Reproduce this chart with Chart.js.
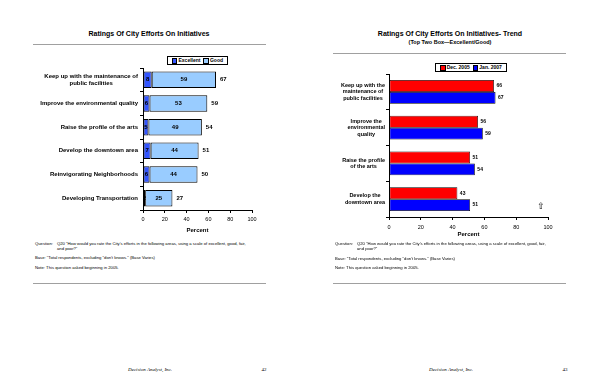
<!DOCTYPE html>
<html><head><meta charset="utf-8">
<script src="https://cdn.jsdelivr.net/npm/chart.js@4.4.0/dist/chart.umd.min.js"></script>
<style>
html,body{margin:0;padding:0;background:#fff;}
body{width:600px;height:388px;position:relative;overflow:hidden;font-family:"Liberation Sans",Arial,sans-serif;color:#000;}
.t{position:absolute;white-space:nowrap;line-height:1;transform:translate(-50%,-50%);}
.l{position:absolute;white-space:nowrap;line-height:1;transform:translateY(-50%);}
.rule{position:absolute;height:1px;background:#a0a0a0;}
canvas{position:absolute;}
.legend{position:absolute;border:1px solid #000;background:#fff;display:flex;align-items:center;font-weight:bold;font-size:5px;box-sizing:border-box;padding:0 1px;justify-content:space-evenly;}
.sw{display:inline-block;width:3.5px;height:3.5px;border:1px solid #000;margin-right:1px;vertical-align:middle;}
.fn{font-size:4.2px;}
.foot{font-family:"Liberation Serif","Times New Roman",serif;font-style:italic;font-size:5px;}
.pg{font-family:"Liberation Serif","Times New Roman",serif;font-size:5px;}
</style></head>
<body>
<div class="t" style="left:149px;top:33px;font-weight:bold;font-size:7px;">Ratings Of City Efforts On Initiatives</div>
<div class="rule" style="left:33px;top:44px;width:233px;"></div>
<div class="legend" style="left:167px;top:56px;width:61px;height:9px;">
 <span><span class="sw" style="background:#3355ff"></span>Excellent</span>
 <span><span class="sw" style="background:#99ccff"></span>Good</span>
</div>
<canvas id="c1" width="300" height="190" style="left:0;top:50px;"></canvas>
<div class="l fn" style="left:35px;top:244px;">Question:</div>
<div class="l fn" style="left:57px;top:244px;">Q20 "How would you rate the City's efforts in the following areas, using a scale of excellent, good, fair,</div>
<div class="l fn" style="left:57px;top:248.5px;">and poor?"</div>
<div class="l fn" style="left:35px;top:258px;">Base: "Total respondents, excluding "don't knows." (Base Varies)</div>
<div class="l fn" style="left:35px;top:268px;">Note: This question asked beginning in 2005.</div>
<div class="rule" style="left:33px;top:283px;width:233px;"></div>
<div class="t foot" style="left:150px;top:369px;">Decision Analyst, Inc.</div>
<div class="t pg" style="left:264px;top:369px;">42</div>

<div class="t" style="left:450px;top:33px;font-weight:bold;font-size:7px;">Ratings Of City Efforts On Initiatives- Trend</div>
<div class="t" style="left:450px;top:43px;font-weight:bold;font-size:5.5px;">(Top Two Box—Excellent/Good)</div>
<div class="rule" style="left:333px;top:53px;width:233px;"></div>
<div class="legend" style="left:435px;top:63px;width:72px;height:9px;">
 <span><span class="sw" style="background:#ff0000"></span>Dec. 2005</span>
 <span><span class="sw" style="background:#0000ff"></span>Jan. 2007</span>
</div>
<canvas id="c2" width="300" height="195" style="left:300px;top:50px;"></canvas>
<div class="t" style="left:541px;top:206px;font-family:'DejaVu Sans';font-size:9px;">⇧</div>
<div class="l fn" style="left:335px;top:244px;">Question:</div>
<div class="l fn" style="left:357px;top:244px;">Q20 "How would you rate the City's efforts in the following areas, using a scale of excellent, good, fair,</div>
<div class="l fn" style="left:357px;top:248.5px;">and poor?"</div>
<div class="l fn" style="left:335px;top:258.5px;">Base: "Total respondents, excluding "don't knows." (Base Varies)</div>
<div class="l fn" style="left:335px;top:268px;">Note: This question asked beginning in 2005.</div>
<div class="rule" style="left:333px;top:283px;width:233px;"></div>
<div class="t foot" style="left:451px;top:369px;">Decision Analyst, Inc.</div>
<div class="t pg" style="left:565px;top:369px;">43</div>

<script>
// ---- data ----
const initiatives = [
  ["Keep up with the maintenance of", "public facilities"],
  "Improve the environmental quality",
  "Raise the profile of the arts",
  "Develop the downtown area",
  "Reinvigorating Neighborhoods",
  "Developing Transportation"
];
const excellent = [8, 6, 5, 7, 6, 2];
const good = [59, 53, 49, 44, 44, 25];

const trendCategories = [
  ["Keep up with the", "maintenance of", "public facilities"],
  ["Improve the", "environmental", "quality"],
  ["Raise the profile", "of the arts"],
  ["Develop the", "downtown area"]
];
const dec2005 = [66, 56, 51, 43];
const jan2007 = [67, 59, 54, 51];

const xMin = 0, xMax = 100, xStep = 20;
const axisTitle = "Percent";

Chart.defaults.font.family = '"Liberation Sans", Arial, sans-serif';
Chart.defaults.color = '#000';

const catLabels = {
  id: 'catLabels',
  afterDraw(chart, args, opts) {
    const ctx = chart.ctx, ys = chart.scales.y, ca = chart.chartArea;
    ctx.save();
    ctx.font = opts.font;
    ctx.fillStyle = '#000';
    ctx.textBaseline = 'middle';
    ctx.textAlign = 'center';
    chart.data.labels.forEach((lab, i) => {
      const lines = Array.isArray(lab) ? lab : [lab];
      const w = Math.max(...lines.map(s => ctx.measureText(s).width));
      const cx = ca.left - opts.gap - w / 2;
      const cy = ys.getPixelForValue(i);
      lines.forEach((s, j) => ctx.fillText(s, cx, cy + (j - (lines.length - 1) / 2) * opts.lineHeight));
    });
    ctx.font = opts.titleFont;
    ctx.fillText(axisTitle, (ca.left + ca.right) / 2, ca.bottom + opts.titleOffset);
    ctx.restore();
  }
};

const stackLabels = {
  id: 'stackLabels',
  afterDatasetsDraw(chart) {
    const ctx = chart.ctx;
    ctx.save();
    ctx.font = 'bold 6px "Liberation Sans", Arial';
    ctx.fillStyle = '#000';
    ctx.textBaseline = 'middle';
    const n = chart.data.datasets.length;
    chart.data.datasets.forEach((ds, di) => {
      const meta = chart.getDatasetMeta(di);
      meta.data.forEach((el, i) => {
        ctx.textAlign = 'center';
        ctx.fillText(String(ds.data[i]), (el.x + el.base) / 2, el.y);
        if (di === n - 1) {
          const total = chart.data.datasets.reduce((a, d) => a + d.data[i], 0);
          ctx.textAlign = 'left';
          ctx.fillText(String(total), el.x + 4, el.y);
        }
      });
    });
    ctx.restore();
  }
};

const endLabels = {
  id: 'endLabels',
  afterDatasetsDraw(chart) {
    const ctx = chart.ctx;
    ctx.save();
    ctx.font = 'bold 5px "Liberation Sans", Arial';
    ctx.fillStyle = '#000';
    ctx.textBaseline = 'middle';
    ctx.textAlign = 'left';
    chart.data.datasets.forEach((ds, di) => {
      chart.getDatasetMeta(di).data.forEach((el, i) => {
        ctx.fillText(String(ds.data[i]), el.x + 2.5, el.y);
      });
    });
    ctx.restore();
  }
};

function xScale(h, tickPad) {
  return {
    type: 'linear', min: xMin, max: xMax,
    ticks: { stepSize: xStep, font: { size: 5.5 }, color: '#000', padding: tickPad },
    grid: { drawOnChartArea: false, drawTicks: true, tickLength: 3, color: '#000' },
    border: { display: true, color: '#000', width: 1 },
    afterFit(s) { s.height = h; }
  };
}
function yScale(w, stacked) {
  return {
    stacked: stacked,
    ticks: { display: false },
    grid: { drawOnChartArea: false, drawTicks: true, tickLength: 3, color: '#000', offset: true },
    border: { display: true, color: '#000', width: 1 },
    afterFit(s) { s.width = w; }
  };
}

new Chart(document.getElementById('c1'), {
  type: 'bar',
  data: {
    labels: initiatives,
    datasets: [
      { label: 'Excellent', data: excellent, backgroundColor: '#3355ff', borderColor: '#000', borderWidth: 1, borderSkipped: false, barPercentage: 0.7, categoryPercentage: 1 },
      { label: 'Good', data: good, backgroundColor: '#99ccff', borderColor: '#000', borderWidth: 1, borderSkipped: false, barPercentage: 0.7, categoryPercentage: 1 }
    ]
  },
  options: {
    indexAxis: 'y', responsive: false, animation: false, devicePixelRatio: 1,
    layout: { padding: { top: 18, right: 48, left: 0, bottom: 0 } },
    plugins: { legend: { display: false }, tooltip: { enabled: false },
      catLabels: { font: 'bold 6px "Liberation Sans", Arial', gap: 5, lineHeight: 7, titleFont: 'bold 6px "Liberation Sans", Arial', titleOffset: 20 } },
    scales: { x: Object.assign(xScale(30, 3), { stacked: true }), y: yScale(143, true) }
  },
  plugins: [catLabels, stackLabels]
});

new Chart(document.getElementById('c2'), {
  type: 'bar',
  data: {
    labels: trendCategories,
    datasets: [
      { label: 'Dec. 2005', data: dec2005, backgroundColor: '#ff0000', borderColor: '#000', borderWidth: 0.75, borderSkipped: false, barPercentage: 1, categoryPercentage: 0.67 },
      { label: 'Jan. 2007', data: jan2007, backgroundColor: '#0000ff', borderColor: '#000', borderWidth: 0.75, borderSkipped: false, barPercentage: 1, categoryPercentage: 0.67 }
    ]
  },
  options: {
    indexAxis: 'y', responsive: false, animation: false, devicePixelRatio: 1,
    layout: { padding: { top: 24, right: 52, left: 0, bottom: 0 } },
    plugins: { legend: { display: false }, tooltip: { enabled: false },
      catLabels: { font: 'bold 5.5px "Liberation Sans", Arial', gap: 4, lineHeight: 6.5, titleFont: 'bold 6px "Liberation Sans", Arial', titleOffset: 17 } },
    scales: { x: xScale(28, 4), y: yScale(89, false) }
  },
  plugins: [catLabels, endLabels]
});
</script>
</body></html>
